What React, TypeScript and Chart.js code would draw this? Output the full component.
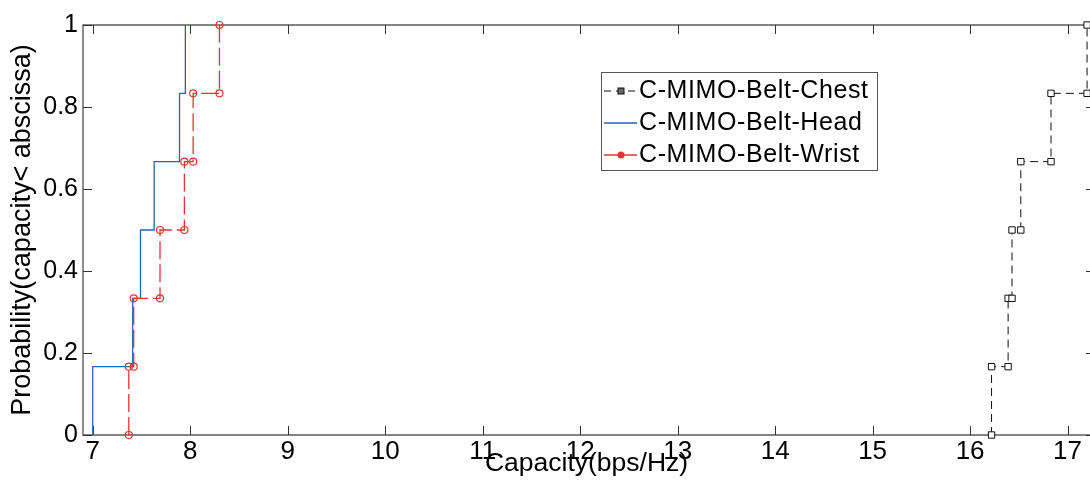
import React, { useEffect, useRef } from "react";
import { Chart, registerables } from "chart.js";

Chart.register(...registerables);

const FONT = "'Liberation Sans', Arial, Helvetica, sans-serif";

// Axis ticks
const xTickValues = [7, 8, 9, 10, 11, 12, 13, 14, 15, 16, 17];
const yTickValues = [0, 0.2, 0.4, 0.6, 0.8, 1];
const yTickLabels = ["0", "0.2", "0.4", "0.6", "0.8", "1"];
const xMin = 6.9;
const xMax = 17.23;

const xTitle = "Capacity(bps/Hz)";
const yTitle = "Probability(capacity< abscissa)";

const seriesNames = ["C-MIMO-Belt-Chest", "C-MIMO-Belt-Head", "C-MIMO-Belt-Wrist"];

// Empirical CDF stair corners (capacity, probability)
const chestCapacity = [16.22, 16.22, 16.39, 16.39, 16.43, 16.43, 16.52, 16.52, 16.83, 16.83, 17.2, 17.2];
const chestProb = [0, 0.1667, 0.1667, 0.3333, 0.3333, 0.5, 0.5, 0.6667, 0.6667, 0.8333, 0.8333, 1];

const headCapacity = [7.0, 7.0, 7.41, 7.41, 7.49, 7.49, 7.63, 7.63, 7.89, 7.89, 7.95, 7.95];
const headProb = [0, 0.1667, 0.1667, 0.3333, 0.3333, 0.5, 0.5, 0.6667, 0.6667, 0.8333, 0.8333, 1];

const wristCapacity = [7.37, 7.37, 7.42, 7.42, 7.69, 7.69, 7.94, 7.94, 8.03, 8.03, 8.3, 8.3];
const wristProb = [0, 0.1667, 0.1667, 0.3333, 0.3333, 0.5, 0.5, 0.6667, 0.6667, 0.8333, 0.8333, 1];

const chestColor = "#111111";
const headColor = "#2b63b3";
const wristColor = "#e03434";

const toPoints = (xs: number[], ys: number[]) => xs.map((x, i) => ({ x, y: ys[i] }));

const framePlugin = {
  id: "matlabFrame",
  beforeDatasetsDraw(chart: any) {
    const { ctx, chartArea: a, scales } = chart;
    const xs = scales.x;
    const ys = scales.y;
    ctx.save();
    ctx.strokeStyle = "#5c5c5c";
    ctx.lineWidth = 1.4;
    ctx.beginPath();
    ctx.moveTo(a.right, a.top);
    ctx.lineTo(a.left, a.top);
    ctx.lineTo(a.left, a.bottom);
    ctx.lineTo(a.right, a.bottom);
    ctx.stroke();
    ctx.lineWidth = 1;
    ctx.strokeStyle = "#333333";
    const tl = 9;
    ctx.beginPath();
    xTickValues.forEach((v) => {
      const px = Math.round(xs.getPixelForValue(v)) + 0.5;
      ctx.moveTo(px, a.bottom);
      ctx.lineTo(px, a.bottom - tl);
      ctx.moveTo(px, a.top);
      ctx.lineTo(px, a.top + tl);
    });
    yTickValues.forEach((v) => {
      const py = Math.round(ys.getPixelForValue(v)) + 0.5;
      ctx.moveTo(a.left, py);
      ctx.lineTo(a.left + tl, py);
      ctx.moveTo(a.right - 4, py);
      ctx.lineTo(a.right, py);
    });
    ctx.stroke();
    ctx.restore();
  },
};

const legendPlugin = {
  id: "boxLegend",
  afterDraw(chart: any) {
    const { ctx } = chart;
    const bx = 601.5, by = 72.5, bw = 276, bh = 98;
    ctx.save();
    ctx.fillStyle = "#ffffff";
    ctx.fillRect(bx, by, bw, bh);
    ctx.strokeStyle = "#555555";
    ctx.lineWidth = 1;
    ctx.strokeRect(bx, by, bw, bh);
    const rows = [91, 123, 155];
    const x0 = 604, x1 = 637, xm = 621;
    // Chest
    ctx.strokeStyle = chestColor;
    ctx.lineWidth = 1;
    ctx.setLineDash([7, 5]);
    ctx.beginPath();
    ctx.moveTo(x0, rows[0]);
    ctx.lineTo(x1 + 2, rows[0]);
    ctx.stroke();
    ctx.setLineDash([]);
    ctx.fillStyle = "#666";
    ctx.fillRect(xm - 3, rows[0] - 3, 6, 6);
    ctx.strokeRect(xm - 3, rows[0] - 3, 6, 6);
    // Head
    ctx.strokeStyle = headColor;
    ctx.lineWidth = 1.3;
    ctx.beginPath();
    ctx.moveTo(x0, rows[1]);
    ctx.lineTo(x1, rows[1]);
    ctx.stroke();
    // Wrist
    ctx.strokeStyle = wristColor;
    ctx.beginPath();
    ctx.moveTo(x0, rows[2]);
    ctx.lineTo(x1, rows[2]);
    ctx.stroke();
    ctx.fillStyle = wristColor;
    ctx.beginPath();
    ctx.arc(xm, rows[2], 3.5, 0, Math.PI * 2);
    ctx.fill();
    // Text
    ctx.fillStyle = "#000";
    ctx.font = `25px ${FONT}`;
    ctx.textBaseline = "middle";
    ctx.textAlign = "left";
    try {
      (ctx as any).letterSpacing = "0.6px";
    } catch (e) {}
    seriesNames.forEach((n, i) => ctx.fillText(n, 639, rows[i]));
    ctx.restore();
  },
};

export default function App() {
  const ref = useRef<HTMLCanvasElement | null>(null);

  useEffect(() => {
    document.body.style.margin = "0";
    document.body.style.overflow = "hidden";
    const canvas = ref.current;
    if (!canvas) return;
    const chart = new Chart(canvas, {
      type: "line",
      data: {
        datasets: [
          {
            label: seriesNames[0],
            data: toPoints(chestCapacity, chestProb),
            borderColor: chestColor,
            borderWidth: 1,
            borderDash: [8, 5],
            pointStyle: "rect",
            pointRadius: 4.5,
            pointBorderColor: chestColor,
            pointBackgroundColor: "#ffffff",
            pointBorderWidth: 1,
            tension: 0,
            fill: false,
            clip: false,
            order: 2,
          } as any,
          {
            label: seriesNames[1],
            data: toPoints(headCapacity, headProb),
            borderColor: headColor,
            borderWidth: 1.3,
            pointRadius: 0,
            tension: 0,
            fill: false,
            clip: false,
            order: 1,
          } as any,
          {
            label: seriesNames[2],
            data: toPoints(wristCapacity, wristProb),
            borderColor: wristColor,
            borderWidth: 1.3,
            borderDash: [18, 5],
            pointStyle: "circle",
            pointRadius: 3.5,
            pointBorderColor: wristColor,
            pointBackgroundColor: "rgba(255,255,255,0)",
            pointBorderWidth: 1.2,
            tension: 0,
            fill: false,
            clip: false,
            order: 0,
          } as any,
        ],
      },
      options: {
        animation: false,
        responsive: true,
        maintainAspectRatio: false,
        layout: { autoPadding: false, padding: { top: 25, right: 0, bottom: 0, left: 0 } },
        plugins: {
          legend: { display: false },
          tooltip: { enabled: false },
        },
        scales: {
          x: {
            type: "linear",
            min: xMin,
            max: xMax,
            grid: { display: false, drawTicks: false },
            border: { display: false },
            afterBuildTicks: (s: any) => {
              s.ticks = xTickValues.map((v) => ({ value: v }));
            },
            afterFit: (s: any) => {
              s.height = 51;
              s.paddingLeft = 0;
              s.paddingRight = 0;
            },
            ticks: {
              autoSkip: false,
              maxRotation: 0,
              padding: 1,
              color: "#000",
              font: { family: FONT, size: 26 },
              callback: (v: any) => String(v),
            },
            title: {
              display: true,
              text: xTitle,
              color: "#000",
              font: { family: FONT, size: 26.5 },
              padding: { top: 0, bottom: 6 },
            },
          },
          y: {
            type: "linear",
            min: 0,
            max: 1,
            grid: { display: false, drawTicks: false },
            border: { display: false },
            afterBuildTicks: (s: any) => {
              s.ticks = yTickValues.map((v) => ({ value: v }));
            },
            afterFit: (s: any) => {
              s.width = 83;
            },
            ticks: {
              autoSkip: false,
              padding: 5,
              color: "#000",
              font: { family: FONT, size: 25 },
              callback: (v: any) => {
                const i = yTickValues.indexOf(Number(v));
                return i >= 0 ? yTickLabels[i] : String(v);
              },
            },
            title: {
              display: true,
              text: yTitle,
              color: "#000",
              font: { family: FONT, size: 27 },
              padding: { top: 6, bottom: 0 },
            },
          },
        },
      },
      plugins: [framePlugin, legendPlugin],
    });
    return () => chart.destroy();
  }, []);

  return (
    <div style={{ width: 1090, height: 486, position: "relative" }}>
      <canvas ref={ref} />
    </div>
  );
}
